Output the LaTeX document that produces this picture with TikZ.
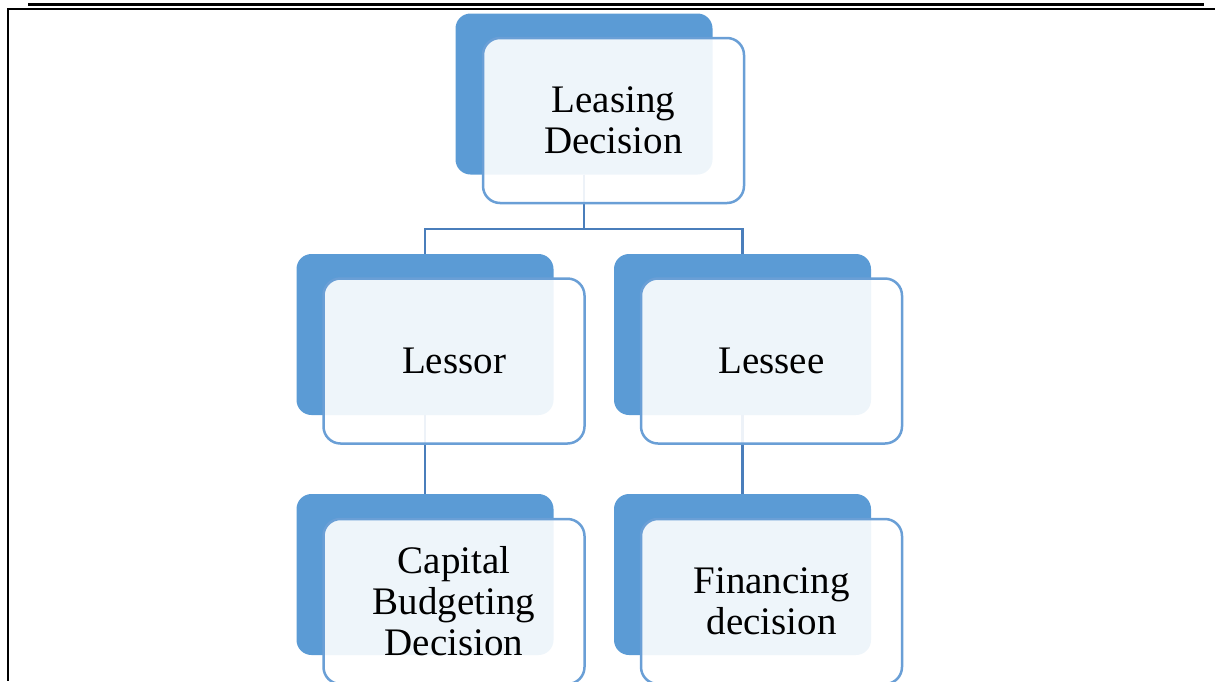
\documentclass[tikz,border=0pt]{standalone}
\usepackage{fontspec}
\setmainfont{Liberation Serif}
\definecolor{backblue}{HTML}{5B9BD5}
\definecolor{edgeblue}{HTML}{6A9FD6}
\definecolor{linkblue}{HTML}{4A7EBB}
\begin{document}
\begin{tikzpicture}[x=1pt,y=-1pt,
  backbox/.style={rectangle, rounded corners=15pt, fill=backblue, draw=none,
    minimum width=257pt, minimum height=161pt, inner sep=0pt},
  frontbox/.style={rectangle, rounded corners=17pt, fill=white, fill opacity=0.9,
    text opacity=1, draw=edgeblue, line width=2.5pt,
    minimum width=261pt, minimum height=165pt, inner sep=0pt,
    align=center, font=\fontsize{39}{41}\selectfont},
  link/.style={draw=linkblue, line width=2.8pt},
  rule/.style={line width=2.5pt}]
\useasboundingbox (0,0) rectangle (1215,681);

% page rules and the left table border
\draw[rule] (28,4.5) -- (1204,4.5);
\draw[rule] (7,9) -- (1215,9);
\draw[rule] (8,9) -- (8,681);

% back tiles
\node[backbox] (tb) at (584,94) {};
\node[backbox] (lb) at (425,334.5) {};
\node[backbox] (rb) at (742.5,334.5) {};
\node[backbox] (cb) at (425,574.5) {};
\node[backbox] (fb) at (742.5,574.5) {};

% connectors run behind the front cards
\coordinate (bus) at (584,229);
\draw[link] (tb.south) -- (bus);
\draw[link] (bus) -| (lb.north);
\draw[link] (bus) -| (rb.north);
\draw[link] (lb.south) -- (cb.north);
\draw[link] (rb.south) -- (fb.north);

% front cards with the labels
\node[frontbox] (t) at (613.5,120.5) {Leasing\\Decision};
\node[frontbox] (l) at (454,361) {Lessor};
\node[frontbox] (r) at (771.5,361) {Lessee};
\node[frontbox] (c) at (454,601.5) {Capital\\Budgeting\\Decision};
\node[frontbox] (f) at (771.5,601.5) {Financing\\decision};
\end{tikzpicture}
\end{document}
